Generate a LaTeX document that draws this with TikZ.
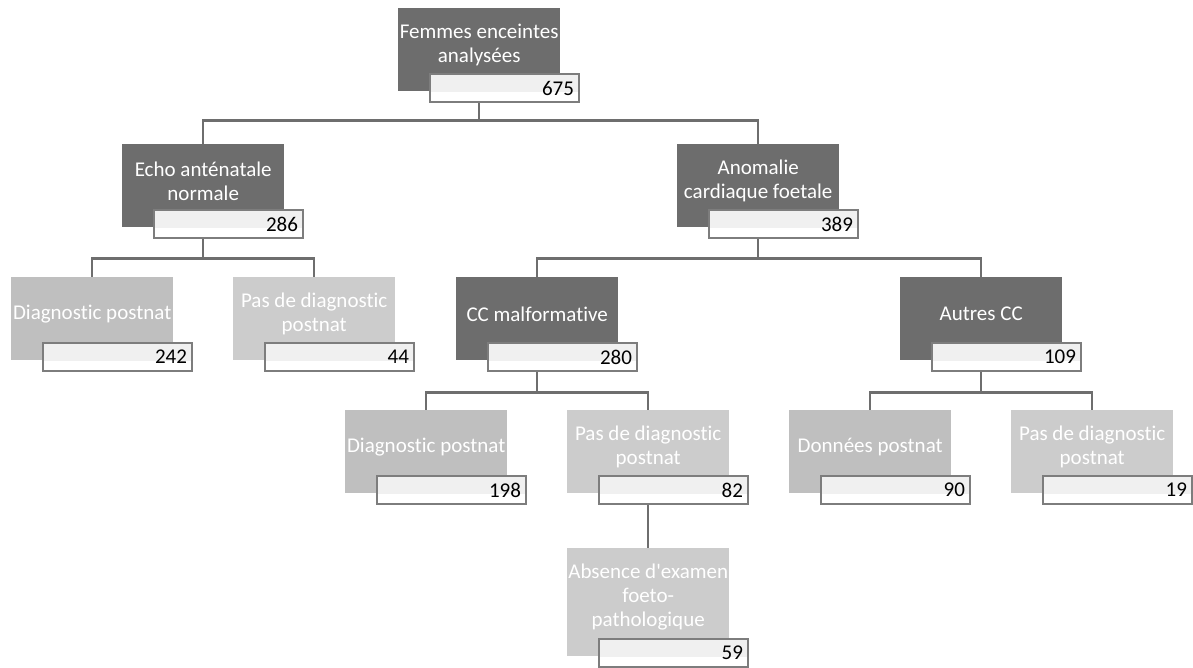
\documentclass[tikz,border=0pt]{standalone}
\usepackage{fontspec}
\setmainfont[Ligatures=NoCommon]{Carlito}
\usetikzlibrary{positioning,calc,backgrounds}
\definecolor{boxdark}{RGB}{109,109,109}
\definecolor{boxmid}{RGB}{191,191,191}
\definecolor{boxlight}{RGB}{204,204,204}
\definecolor{linegray}{RGB}{110,110,110}
\definecolor{numline}{RGB}{125,125,125}
\definecolor{numband}{RGB}{240,240,240}
\tikzset{
  catbox/.style={rectangle,minimum width=162pt,inner sep=0pt,anchor=north west},
  cattext/.style={text=white,align=center,font=\fontsize{21}{24}\selectfont,inner sep=0pt},
  numbox/.style={rectangle,draw=numline,line width=2pt,fill=white,
    path picture={\fill[numband] (path picture bounding box.north west) rectangle ([yshift=-4pt]path picture bounding box.east);},
    minimum width=149pt,minimum height=28pt,anchor=north west,align=right,text width=139pt,inner sep=4pt,font=\fontsize{21}{24}\selectfont},
  link/.style={draw=linegray,line width=2.5pt}
}
\begin{document}
\begin{tikzpicture}[x=1pt,y=-1pt]
    \useasboundingbox (0,0) rectangle (1193,668);
    % Boites de l'arbre
    \foreach \x/\y/\h/\c/\txt/\num/\id in {
        398/8/83/boxdark/{Femmes enceintes\\analysées}/675/root,
        122/144/83/boxdark/{Echo anténatale\\normale}/286/echo,
        677/144/83/boxdark/{Anomalie\\cardiaque foetale}/389/anom,
        11/277/83/boxmid/{Diagnostic postnat}/242/diagA,
        233/277/83/boxlight/{Pas de diagnostic\\postnat}/44/pasA,
        456/277/83/boxdark/{CC malformative}/280/ccm,
        900/277/83/boxdark/{Autres CC}/109/autres,
        345/410/83/boxmid/{Diagnostic postnat}/198/diagB,
        567/410/83/boxlight/{Pas de diagnostic\\postnat}/82/pasB,
        789/410/83/boxmid/{Données postnat}/90/donnees,
        1011/410/83/boxlight/{Pas de diagnostic\\postnat}/19/pasC,
        567/548/108/boxlight/{Absence d\textquotesingle examen\\foeto-\\pathologique}/59/absence}
    {
        \node[catbox,fill=\c,minimum height=\h pt] (\id) at (\x,\y) {};
        \node[cattext] (\id-t) at ($(\id.north)+(0,{(\h-19)/2+5})$) {\txt};
        \node[numbox] (\id-n) at ($(\id.north west)+(31,\h-18)$) {\num};
    }
    % Liaisons
    \begin{scope}[on background layer]
        \draw[link] (root.south) -- ++(0,29) -| (echo.north);
        \draw[link] (root.south) -- ++(0,29) -| (anom.north);
        \draw[link] (echo.south) -- ++(0,31) -| (diagA.north);
        \draw[link] (echo.south) -- ++(0,31) -| (pasA.north);
        \draw[link] (anom.south) -- ++(0,31) -| (ccm.north);
        \draw[link] (anom.south) -- ++(0,31) -| (autres.north);
        \draw[link] (ccm.south) -- ++(0,32) -| (diagB.north);
        \draw[link] (ccm.south) -- ++(0,32) -| (pasB.north);
        \draw[link] (autres.south) -- ++(0,32) -| (donnees.north);
        \draw[link] (autres.south) -- ++(0,32) -| (pasC.north);
        \draw[link] (pasB.south) -- (absence.north);
    \end{scope}
\end{tikzpicture}
\end{document}
